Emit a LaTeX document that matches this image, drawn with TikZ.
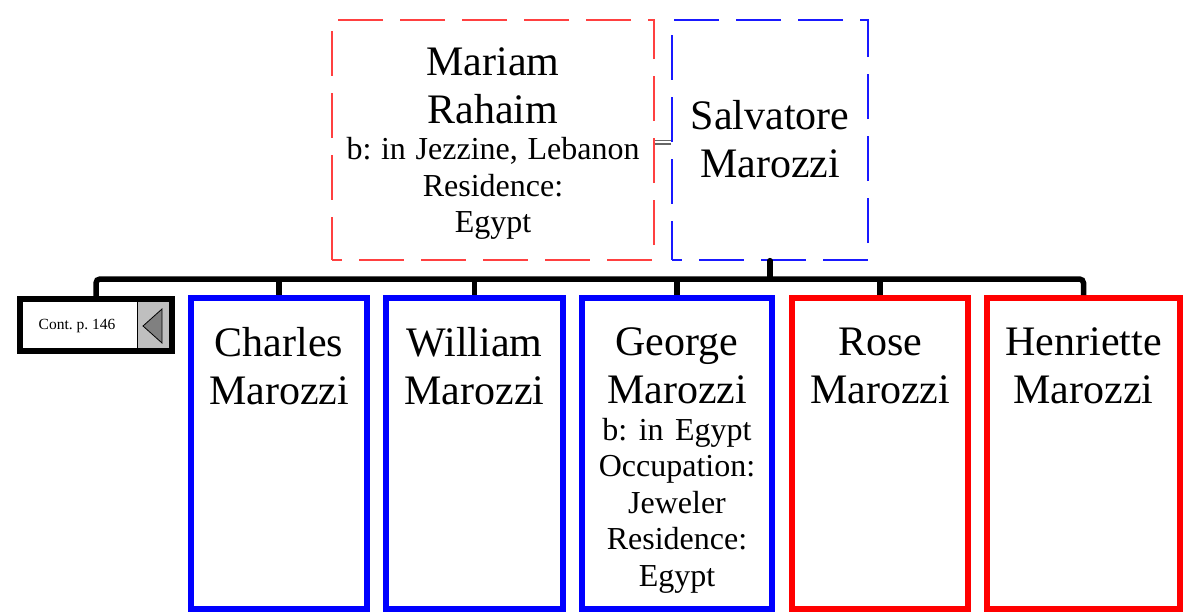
\documentclass[tikz,border=0pt]{standalone}
\usepackage{fontspec}
\setmainfont{Liberation Serif}
\frenchspacing
\newcommand\BigLine{\fontsize{42}{48}\selectfont\frenchspacing\spaceskip=0pt\xspaceskip=0pt }
\newcommand\SmallLine{\fontsize{32}{36.5}\selectfont\frenchspacing\spaceskip=0pt\xspaceskip=0pt }
\begin{document}
\begin{tikzpicture}[x=1pt,y=-1pt,
  person/.style={draw, rectangle, inner sep=0pt, line width=6pt},
  male/.style={person, draw=blue},
  female/.style={person, draw=red},
  spouse/.style={draw, rectangle, inner sep=0pt, line width=1.3pt, dash pattern=on 45pt off 17pt, dash phase=35pt},
  txt/.style={anchor=north, inner sep=0pt, align=center, text width=#1},
  bar/.style={draw=black, line width=5.5pt},
  marriage/.style={draw=black!60, line width=1.3pt, double=white, double distance=2.4pt}]
\useasboundingbox (0,0) rectangle (1200,613);

% parents
\node[spouse, draw=red!75, minimum width=322pt, minimum height=240pt] (mar) at (493,140) {};
\node[spouse, draw=blue!90, minimum width=196pt, minimum height=240pt] (sal) at (770,140) {};

% children boxes
\node[male, minimum width=176pt, minimum height=311pt] (cha) at (279,453.5) {};
\node[male, minimum width=177pt, minimum height=311pt] (wil) at (474.5,453.5) {};
\node[male, minimum width=190pt, minimum height=311pt] (geo) at (677,453.5) {};
\node[female, minimum width=176pt, minimum height=311pt] (ros) at (880,453.5) {};
\node[female, minimum width=193pt, minimum height=311pt] (hen) at (1083.5,453.5) {};

% continuation box
\node[draw, rectangle, line width=5.5pt, inner sep=0pt, fill=white, minimum width=152pt, minimum height=52pt] (cont) at (96,325) {};
\fill[gray!50] (137,301.75) rectangle (169.25,348.25);
\draw[line width=0.8pt] (137,301.75) -- (137,348.25);
\draw[fill=gray, line width=0.8pt] (143,326) -- (162,309) -- (162,343) -- cycle;
\node[inner sep=0pt, font=\fontsize{15.5}{18}\selectfont] (conttxt) at (77,326) {Cont. p. 146};

% connectors
\draw[marriage] ([yshift=-2pt]mar.east) -- ([yshift=-2pt]sal.west);
\coordinate (fam) at (sal.south |- 0,279);
\draw[bar, line cap=round] (sal.south) -- (fam);
\draw[bar, rounded corners=4pt] (cont.north) |- (fam) -| (hen.north);
\foreach \c in {cha,wil,geo,ros} \draw[bar] (fam -| \c.north) -- (\c.north);

% texts
\node[txt=310pt] (martxt) at (493,47) {\BigLine Mariam\par Rahaim\par\SmallLine b: in Jezzine, Lebanon\par Residence:\par Egypt\par};
\node[txt=190pt] (saltxt) at (770,100) {\BigLine Salvatore\par Marozzi\par};
\node[txt=170pt] (chatxt) at (279,327) {\BigLine Charles\par Marozzi\par};
\node[txt=170pt] (wiltxt) at (474.5,327) {\BigLine William\par Marozzi\par};
\node[txt=184pt] (geotxt) at (677,327.5) {\BigLine George\par Marozzi\par\SmallLine b: in Egypt\par Occupation:\par Jeweler\par Residence:\par Egypt\par};
\node[txt=170pt] (rostxt) at (880,328) {\BigLine Rose\par Marozzi\par};
\node[txt=188pt] (hentxt) at (1083.5,327) {\BigLine Henriette\par Marozzi\par};
\end{tikzpicture}
\end{document}
